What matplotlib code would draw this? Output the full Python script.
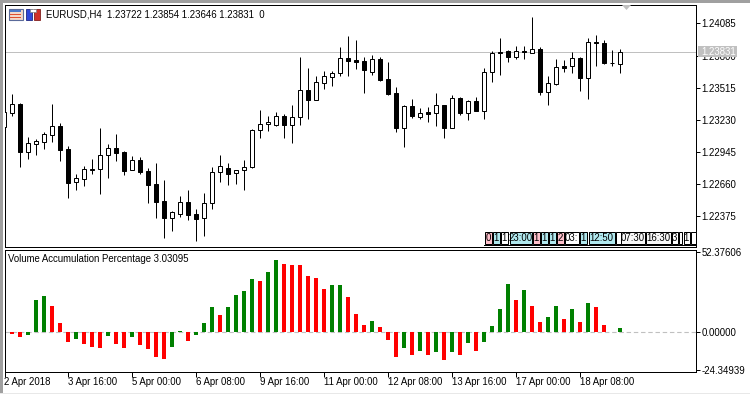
import matplotlib
matplotlib.use("Agg")
import matplotlib.pyplot as plt
from matplotlib.patches import Rectangle, Polygon

plt.rcParams['font.family'] = ['Liberation Sans', 'DejaVu Sans']
plt.rcParams['font.size'] = 6.9

# Velas EURUSD H4
opens = [1.23164, 1.23288, 1.23368, 1.22941, 1.23012, 1.23030, 1.23092, 1.23173, 1.22968, 1.22674,
         1.22701, 1.22781, 1.22790, 1.22914, 1.22977, 1.22941, 1.22781, 1.22870, 1.22772, 1.22656,
         1.22505, 1.22354, 1.22389, 1.22496, 1.22389, 1.22354, 1.22487, 1.22763, 1.22799, 1.22754,
         1.22781, 1.22808, 1.23137, 1.23190, 1.23181, 1.23262, 1.23181, 1.23253, 1.23493, 1.23404,
         1.23555, 1.23609, 1.23644, 1.23778, 1.23760, 1.23751, 1.23653, 1.23769, 1.23591, 1.23466,
         1.23155, 1.23351, 1.23253, 1.23297, 1.23288, 1.23359, 1.23155, 1.23422, 1.23288, 1.23395,
         1.23306, 1.23653, 1.23831, 1.23840, 1.23787, 1.23840, 1.23822, 1.23858, 1.23475, 1.23546,
         1.23707, 1.23707, 1.23778, 1.23600, 1.23920, 1.23911, 1.23733, 1.23722]
highs = [1.23297, 1.23457, 1.23377, 1.23075, 1.23057, 1.23119, 1.23368, 1.23199, 1.22995, 1.22745,
         1.22817, 1.22879, 1.23155, 1.23012, 1.23101, 1.22950, 1.22906, 1.22897, 1.22799, 1.22843,
         1.22692, 1.22416, 1.22550, 1.22603, 1.22434, 1.22576, 1.22808, 1.22914, 1.22843, 1.22781,
         1.22870, 1.23146, 1.23315, 1.23262, 1.23297, 1.23279, 1.23359, 1.23787, 1.23689, 1.23618,
         1.23662, 1.23662, 1.23876, 1.23974, 1.23938, 1.23787, 1.23804, 1.23787, 1.23742, 1.23520,
         1.23359, 1.23413, 1.23333, 1.23342, 1.23466, 1.23359, 1.23448, 1.23431, 1.23404, 1.23431,
         1.23689, 1.23840, 1.23956, 1.23849, 1.23885, 1.23885, 1.24143, 1.23876, 1.23618, 1.23769,
         1.23760, 1.23831, 1.23787, 1.23956, 1.23982, 1.23938, 1.23849, 1.23854]
lows = [1.23164, 1.23262, 1.22808, 1.22879, 1.22914, 1.22968, 1.23030, 1.22861, 1.22532, 1.22603,
        1.22639, 1.22745, 1.22567, 1.22710, 1.22861, 1.22736, 1.22781, 1.22745, 1.22487, 1.22354,
        1.22176, 1.22238, 1.22363, 1.22336, 1.22149, 1.22194, 1.22434, 1.22674, 1.22647, 1.22656,
        1.22603, 1.22799, 1.23066, 1.23128, 1.23173, 1.23066, 1.23021, 1.23181, 1.23235, 1.23404,
        1.23502, 1.23529, 1.23618, 1.23618, 1.23680, 1.23466, 1.23626, 1.23573, 1.23448, 1.23119,
        1.22986, 1.23244, 1.23235, 1.23208, 1.23173, 1.23066, 1.23155, 1.23270, 1.23226, 1.23306,
        1.23235, 1.23564, 1.23626, 1.23742, 1.23769, 1.23769, 1.23822, 1.23448, 1.23359, 1.23537,
        1.23653, 1.23644, 1.23484, 1.23413, 1.23707, 1.23724, 1.23707, 1.23646]
closes = [1.23297, 1.23368, 1.22941, 1.23021, 1.23039, 1.23101, 1.23173, 1.22959, 1.22665, 1.22710,
          1.22790, 1.22790, 1.22914, 1.22977, 1.22932, 1.22772, 1.22870, 1.22763, 1.22647, 1.22496,
          1.22354, 1.22407, 1.22496, 1.22380, 1.22345, 1.22487, 1.22763, 1.22817, 1.22745, 1.22781,
          1.22808, 1.23137, 1.23190, 1.23208, 1.23262, 1.23181, 1.23253, 1.23493, 1.23404, 1.23564,
          1.23618, 1.23644, 1.23778, 1.23751, 1.23742, 1.23671, 1.23769, 1.23582, 1.23457, 1.23155,
          1.23351, 1.23262, 1.23288, 1.23279, 1.23359, 1.23155, 1.23422, 1.23288, 1.23395, 1.23306,
          1.23653, 1.23822, 1.23822, 1.23787, 1.23840, 1.23831, 1.23858, 1.23475, 1.23555, 1.23698,
          1.23689, 1.23778, 1.23600, 1.23920, 1.23911, 1.23733, 1.23733, 1.23831]

# Indicador de volumen
vap = [3.9, -1.3, -3.2, -2.0, 20.8, 23.4, 16.9, 5.9, -6.5, -4.6,
       -7.8, -9.8, -10.4, -2.6, -7.8, -10.4, -3.2, -8.5, -11.1, -16.3,
       -17.6, -9.8, 0.65, -5.9, -2.0, 5.9, 16.3, 11.1, 16.3, 24.1,
       26.7, 34.5, 33.2, 39.0, 46.8, 44.2, 43.6, 43.6, 36.4, 35.1,
       28.0, 30.6, 30.6, 22.8, 11.7, 4.6, 7.2, 3.3, -5.2, -16.3,
       -10.4, -15.0, -12.4, -15.0, -13.0, -18.2, -13.0, -15.0, -7.2, -12.4,
       -6.5, 3.9, 15.0, 31.2, 20.8, 27.3, 16.9, 6.5, 9.8, 16.9,
       8.5, 15.0, 6.5, 18.9, 16.3, 4.6, 0.0, 3.03095]
vap_colors = ['r', 'r', 'r', 'g', 'g', 'g', 'r', 'r', 'r', 'g',
              'r', 'r', 'r', 'g', 'r', 'r', 'g', 'r', 'r', 'r',
              'r', 'g', 'g', 'r', 'g', 'g', 'g', 'r', 'g', 'g',
              'g', 'g', 'r', 'g', 'g', 'r', 'r', 'r', 'r', 'r',
              'r', 'g', 'g', 'r', 'r', 'r', 'g', 'r', 'r', 'r',
              'g', 'r', 'g', 'r', 'g', 'r', 'g', 'r', 'g', 'r',
              'g', 'g', 'g', 'g', 'r', 'g', 'r', 'r', 'g', 'g',
              'r', 'g', 'r', 'g', 'r', 'r', 'g', 'g']

price_ticks = [1.24085, 1.23800, 1.23515, 1.23230, 1.22945, 1.22660, 1.22375]
vap_ticks = [52.37606, 0.0, -24.34939]
vap_tick_labels = ['52.37606', '0.00000', '-24.34939']
time_ticks = [0, 8, 16, 24, 32, 40, 48, 56, 64, 72]
time_labels = ['2 Apr 2018', '3 Apr 16:00', '5 Apr 00:00', '6 Apr 08:00', '9 Apr 16:00',
               '11 Apr 00:00', '12 Apr 08:00', '13 Apr 16:00', '17 Apr 00:00', '18 Apr 08:00']
last_price = 1.23831

# Etiquetas de sesiones abajo a la derecha
tag_texts = ['0', '1', '1', '23:00', '1', '1', '1', '2', '03:', '1', '12:50', '', '07:30', '16:30', '3', '', '1', '']
tag_left = [484, 492, 500, 509, 532, 540, 548, 556, 564, 579, 588, 615, 620, 645, 671, 678, 683, 690]
tag_right = [491, 499, 507, 531, 539, 547, 555, 563, 578, 586, 614, 620, 644, 670, 677, 681, 689, 695]
tag_colors = ['#ffc0cb', '#b0e8ee', 'white', '#b0e8ee', '#ffc0cb', '#b0e8ee', '#b0e8ee', '#ffc0cb', 'white',
              '#b0e8ee', '#b0e8ee', 'white', '#f8f8f8', '#f8f8f8', 'white', 'white', 'white', 'white']

W, H = 750, 394
fig = plt.figure(figsize=(7.5, 3.94), dpi=100, facecolor='white')


def caja(left, top, right, bottom):
    return [left / W, 1 - bottom / H, (right - left) / W, (bottom - top) / H]


def ejes(ax):
    for s in ax.spines.values():
        s.set_linewidth(0.72)
    ax.yaxis.tick_right()
    ax.tick_params(axis='y', length=3, width=0.72, pad=1, labelsize=6.9)
    ax.set_xlim(0, 86.44)


# Panel de precios
ax = fig.add_axes(caja(4.5, 4.5, 696, 246.5))
ejes(ax)
ax.set_ylim(1.22100, 1.24254)
ax.set_xticks([])
ax.set_yticks(price_ticks)
ax.set_yticklabels([f'{p:.5f}' for p in price_ticks])
ax.axhline(last_price, color='#c0c0c0', lw=0.72, zorder=1)

pos = list(range(len(opens)))
ax.vlines(pos, lows, highs, color='black', lw=0.72, zorder=2)
body_bottom = [min(o, c) for o, c in zip(opens, closes)]
body_height = [abs(c - o) for o, c in zip(opens, closes)]
body_color = ['white' if c >= o else 'black' for o, c in zip(opens, closes)]
ax.bar(pos, body_height, bottom=body_bottom, width=0.5, color=body_color,
       edgecolor='black', linewidth=0.72, zorder=3)

# Panel del indicador
ax2 = fig.add_axes(caja(4.5, 249.5, 696, 371.5))
ejes(ax2)
ax2.set_ylim(-25.5, 53.8)
ax2.set_yticks(vap_ticks)
ax2.set_yticklabels(vap_tick_labels)
ax2.axhline(0, color='#c0c0c0', lw=0.8, ls=(0, (4, 2.5)), zorder=1)
ax2.bar(pos, vap, width=0.5, color=['#ff0000' if c == 'r' else '#008000' for c in vap_colors], zorder=2)
ax2.set_xticks(time_ticks)
ax2.set_xticklabels(time_labels, ha='left')
ax2.tick_params(axis='x', length=3.5, width=0.72, pad=0.5, labelsize=6.9)

# Capa con los adornos de la ventana, en pixeles
top = fig.add_axes([0, 0, 1, 1], facecolor='none')
top.set_xlim(0, W)
top.set_ylim(H, 0)
top.axis('off')

top.add_patch(Rectangle((0, 0), W, 2.5, color='#a0a0a0', lw=0))
top.add_patch(Rectangle((0, 0), 2.5, H, color='#a0a0a0', lw=0))
top.add_patch(Rectangle((0, 392.5), W, 1.5, color='#e8e8e8', lw=0))

top.text(45.5, 14.5, 'EURUSD,H4  1.23722 1.23854 1.23646 1.23831  0', va='center', ha='left', fontsize=6.9)
top.text(8, 258.5, 'Volume Accumulation Percentage 3.03095', va='center', ha='left', fontsize=6.9)

# Iconos
top.add_patch(Rectangle((8.5, 8.5), 14, 11.5, fc='#f4d8c8', ec='#5a6a9a', lw=0.8))
top.add_patch(Rectangle((10, 10), 11, 2, fc='#4a78c8', lw=0))
top.add_patch(Rectangle((10, 13.5), 11, 1.2, fc='#e05030', lw=0))
top.add_patch(Rectangle((10, 16.5), 11, 1.2, fc='#e05030', lw=0))
top.add_patch(Rectangle((25.5, 9), 6, 10.5, fc='#3048d8', ec='#202880', lw=0.6))
top.add_patch(Rectangle((33.5, 9), 6, 10.5, fc='#d03028', ec='#802020', lw=0.6))
top.add_patch(Rectangle((29.5, 8.5), 6, 3, fc='white', ec='#808080', lw=0.5))

# Marca arriba
top.add_patch(Polygon([(622, 5), (631, 5), (626.5, 10)], color='#c0c0c0', lw=0))

# Etiqueta del ultimo precio
top.add_patch(Rectangle((698, 46), 39, 11, color='#c0c0c0', lw=0, zorder=5))
top.text(701, 51.7, f'{last_price:.5f}', color='white', va='center', ha='left', fontsize=6.9, zorder=6)

# Etiquetas de sesiones
for txt, x0, x1, col in zip(tag_texts, tag_left, tag_right, tag_colors):
    top.add_patch(Rectangle((x0 + 0.5, 231.5), x1 - x0, 12, fc=col, ec='black', lw=0.72))
    top.text((x0 + x1) / 2 + 0.5, 237.7, txt, va='center', ha='center', fontsize=6.9)
top.plot([484, 696], [245, 245], color='black', lw=0.72)

fig.savefig('out.png', dpi=100)
